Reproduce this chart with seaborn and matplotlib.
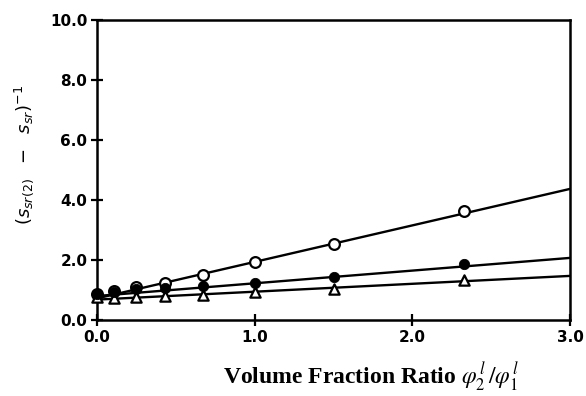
import matplotlib
matplotlib.use("Agg")
import matplotlib.pyplot as plt
import seaborn as sns

# data
ratio = [0.0, 0.11, 0.25, 0.43, 0.67, 1.0, 1.5, 2.33]
open_circle = [0.88, 0.98, 1.10, 1.25, 1.50, 1.93, 2.55, 3.63]
filled_circle = [0.88, 0.95, 1.02, 1.08, 1.15, 1.22, 1.42, 1.88]
triangle = [0.78, 0.72, 0.76, 0.80, 0.83, 0.95, 1.05, 1.32]

# straight fit lines (end points at x=0 and x=3)
fit_x = [0.0, 3.0]
fit_open = [0.72, 4.37]
fit_filled = [0.80, 2.07]
fit_triangle = [0.68, 1.47]

sns.set_theme(style="white")
plt.rcParams['font.family'] = ['DejaVu Sans']

fig = plt.figure(figsize=(5.86, 3.96), dpi=100)
ax = fig.add_axes([97 / 586, 76 / 396, 473 / 586, 300 / 396])

for ys in (fit_open, fit_filled, fit_triangle):
    sns.lineplot(x=fit_x, y=ys, ax=ax, color="black", linewidth=1.7)

sns.scatterplot(x=ratio, y=open_circle, ax=ax, marker="o", s=60,
                facecolor="white", edgecolor="black", linewidth=1.6,
                zorder=3, clip_on=False)
sns.scatterplot(x=ratio, y=filled_circle, ax=ax, marker="o", s=55,
                color="black", edgecolor="black", zorder=4, clip_on=False)
sns.scatterplot(x=ratio, y=triangle, ax=ax, marker="^", s=55,
                facecolor="white", edgecolor="black", linewidth=1.6,
                zorder=3, clip_on=False)

ax.set_xlim(0, 3)
ax.set_ylim(0, 10)
ax.set_xticks([0, 1, 2, 3])
ax.set_xticklabels(["0.0", "1.0", "2.0", "3.0"])
ax.set_yticks([0, 2, 4, 6, 8, 10])
ax.set_yticklabels(["0.0", "2.0", "4.0", "6.0", "8.0", "10.0"])
ax.tick_params(direction="inout", length=8, width=1.6, colors="black",
               labelsize=11, pad=3, left=True, bottom=True)
for lab in ax.get_xticklabels() + ax.get_yticklabels():
    lab.set_fontweight("bold")
for sp in ax.spines.values():
    sp.set_color("black")
    sp.set_linewidth(1.8)

ax.set_xlabel(r"Volume Fraction Ratio $\varphi_2^{\,l}\,/\varphi_1^{\,l}$",
              family="Liberation Serif", fontweight="bold", fontsize=17,
              math_fontfamily="stix", color="black")
ax.xaxis.set_label_coords(0.58, -0.135)
ax.set_ylabel(r"$(s_{sr(2)}\ \ -\ \ s_{sr})^{-1}$", fontsize=13,
              color="black")
ax.yaxis.set_label_coords(-0.13, 0.55)

fig.savefig("out.png", dpi=100)
